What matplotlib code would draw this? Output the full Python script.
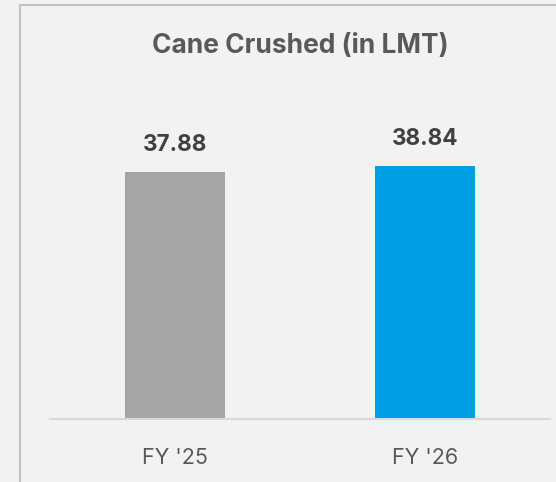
import matplotlib.pyplot as plt
from matplotlib.patches import Rectangle

categories = ["FY '25", "FY '26"]
values = [37.88, 38.84]
colors = ["#a5a5a5", "#009fe3"]
title = "Cane Crushed (in LMT)"

plt.rcParams['font.family'] = ['Inter', 'DejaVu Sans']

W, H = 556, 482
fig = plt.figure(figsize=(W / 100, H / 100), dpi=100, facecolor="#f2f2f2")

# outer panel border (runs off the right and bottom edges)
fig.patches.append(Rectangle((20 / W, -0.1), 1.2, 1 - 5 / H + 0.1,
                             transform=fig.transFigure, fill=False,
                             edgecolor="#c4c4c4", linewidth=1.5))

ax = fig.add_axes([50 / W, (H - 419) / H, 500 / W, 293 / H])
ax.set_facecolor("#f2f2f2")
x = range(len(categories))
ax.bar(x, values, width=0.4, color=colors)
ax.set_xlim(-0.5, 1.5)
ax.set_ylim(0, 45)

for s in ["top", "right", "left"]:
    ax.spines[s].set_visible(False)
ax.spines["bottom"].set_color("#d9d9d9")
ax.spines["bottom"].set_linewidth(1.5)
ax.set_yticks([])
ax.set_xticks(list(x))
ax.set_xticklabels(categories, fontsize=15.5, color="#595959")
ax.tick_params(axis="x", length=0, pad=21)

for i, v in enumerate(values):
    ax.annotate(f"{v:.2f}", (i, v), xytext=(0, 19.5), textcoords="offset points",
                ha="center", va="center", fontsize=16.2, fontweight="bold",
                color="#404040")

fig.text(300 / W, 1 - 46 / H, title, ha="center", va="center",
         fontsize=19, fontweight="bold", color="#595959")

fig.savefig("out.png", dpi=100, facecolor=fig.get_facecolor())
